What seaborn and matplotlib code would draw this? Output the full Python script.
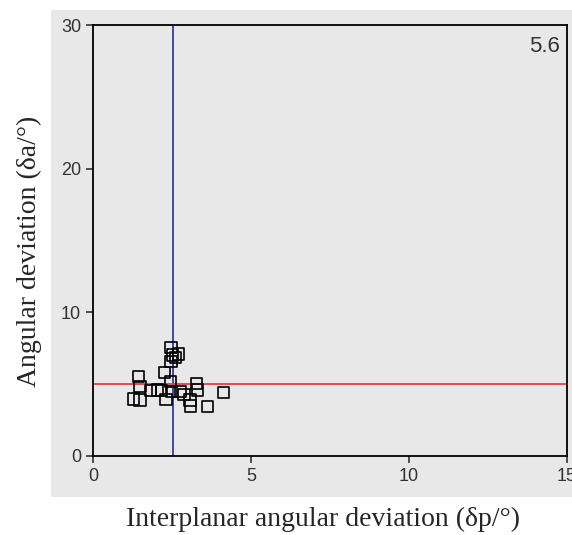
import numpy as np
import pandas as pd
import matplotlib.pyplot as plt
import seaborn as sns
from matplotlib.patches import Rectangle

# values
dp = [2.47, 2.70, 2.52, 2.47, 2.26, 1.43, 2.44, 1.49, 3.28, 3.30, 1.82, 2.17,
      2.49, 2.78, 2.88, 4.12, 1.28, 1.49, 2.31, 3.07, 3.09, 3.63, 2.62, 2.05]
da = [7.56, 7.10, 7.03, 6.56, 5.82, 5.52, 5.17, 4.82, 5.06, 4.59, 4.54, 4.54,
      4.48, 4.48, 4.29, 4.43, 3.97, 3.90, 3.94, 3.90, 3.48, 3.43, 6.85, 4.60]
vline_x = 2.53
hline_y = 5.0
corner_label = "5.6"
x_ticks = [0, 5, 10, 15]
y_ticks = [0, 10, 20, 30]

df = pd.DataFrame({"dp": dp, "da": da})

sns.set_style("white")
bg = "#e8e8e8"

fig = plt.figure(figsize=(5.72, 5.35), dpi=100)
fig.patches.append(Rectangle((51 / 572, 38 / 535), 1 - 51 / 572, 487 / 535,
                             transform=fig.transFigure, facecolor=bg,
                             edgecolor="none", zorder=-5))
ax = fig.add_axes([93 / 572, 79 / 535, 474 / 572, 431 / 535])
ax.set_facecolor(bg)

ax.axvline(vline_x, color="#3a3aa8", lw=1.3, zorder=1)
ax.axhline(hline_y, color="#e04040", lw=1.3, zorder=1)

sns.scatterplot(data=df, x="dp", y="da", ax=ax, marker="s", s=65,
                facecolor="none", edgecolor="black", linewidth=1.2, zorder=3)

ax.set_xlim(0, 15)
ax.set_ylim(0, 30)
ax.set_xticks(x_ticks)
ax.set_yticks(y_ticks)
ax.tick_params(direction="out", length=5, width=1.2, colors="#333333",
               labelsize=13, bottom=True, left=True)
for lab in ax.get_xticklabels() + ax.get_yticklabels():
    lab.set_family("Liberation Sans")
for sp in ax.spines.values():
    sp.set_color("black")
    sp.set_linewidth(1.3)

ax.set_xlabel("Interplanar angular deviation (δp/°)", family="Liberation Serif",
              fontsize=20)
ax.set_ylabel("Angular deviation (δa/°)", family="Liberation Serif",
              fontsize=20)
ax.xaxis.set_label_coords(0.485, -0.118)
ax.yaxis.set_label_coords(-0.108, 0.475)
ax.text(0.985, 0.975, corner_label, transform=ax.transAxes, ha="right", va="top",
        family="Liberation Sans", fontsize=16, color="#333333")

fig.savefig("out.png", dpi=100, facecolor="white")
